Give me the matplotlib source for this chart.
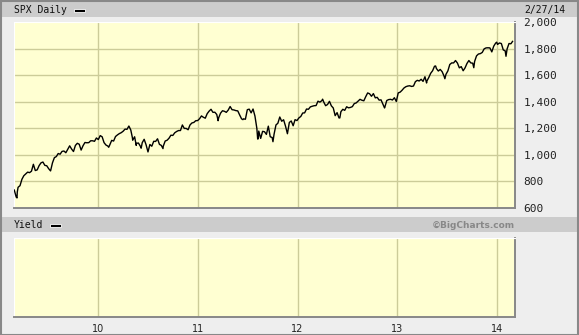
"""SPX daily (BigCharts style) with empty Yield panel below."""
import numpy as np
import pandas as pd
import matplotlib
matplotlib.use("Agg")
import matplotlib.pyplot as plt
import matplotlib.dates as mdates
from matplotlib.patches import Rectangle
from matplotlib.ticker import FuncFormatter

W, H = 579, 335

# weekly (Friday) closes
spx_2009 = [735, 683, 756, 768, 816, 843, 857, 870, 866, 877, 929, 882, 887, 919,
            940, 946, 921, 918, 896, 879, 940, 979, 987, 1010, 1005, 1026, 1029,
            1016, 1042, 1068, 1044, 1025, 1071, 1087, 1080, 1036, 1069, 1093, 1091,
            1092, 1106, 1106, 1102, 1127]
spx_2010 = [1115, 1145, 1136, 1092, 1074, 1066, 1075, 1109, 1104, 1138, 1150, 1160,
            1167, 1178, 1194, 1192, 1217, 1187, 1110, 1136, 1087, 1089, 1065, 1092,
            1117, 1076, 1022, 1078, 1065, 1102, 1101, 1121, 1079, 1071, 1065, 1104,
            1110, 1125, 1148, 1146, 1166, 1176, 1183, 1183, 1225, 1199, 1199, 1189,
            1225, 1240, 1244, 1257, 1258]
spx_2011 = [1272, 1293, 1283, 1276, 1310, 1329, 1343, 1320, 1321, 1304, 1279, 1314,
            1332, 1328, 1320, 1337, 1364, 1340, 1338, 1333, 1331, 1300, 1271, 1271,
            1268, 1340, 1344, 1316, 1345, 1292, 1199, 1179, 1124, 1177, 1174, 1154,
            1216, 1136, 1131, 1155, 1225, 1238, 1285, 1253, 1264, 1216, 1159, 1244,
            1255, 1219, 1265, 1258]
spx_2012 = [1278, 1289, 1315, 1316, 1345, 1343, 1361, 1366, 1370, 1371, 1404, 1397,
            1408, 1398, 1370, 1379, 1403, 1369, 1353, 1295, 1318, 1278, 1325, 1343,
            1335, 1362, 1354, 1357, 1363, 1386, 1391, 1405, 1418, 1411, 1407, 1438,
            1466, 1460, 1441, 1461, 1429, 1433, 1412, 1414, 1380, 1359, 1409, 1416,
            1418, 1413, 1430, 1402]
spx_2013 = [1466, 1472, 1486, 1503, 1513, 1518, 1520, 1515, 1518, 1551, 1561, 1556,
            1569, 1553, 1588, 1555, 1582, 1614, 1633, 1667, 1650, 1631, 1643, 1626,
            1593, 1606, 1632, 1680, 1692, 1692, 1710, 1691, 1655, 1664, 1633, 1655,
            1688, 1710, 1692, 1690, 1703, 1745, 1759, 1762, 1771, 1798, 1805, 1806,
            1805, 1775, 1818, 1841]
spx_2014 = [1831, 1842, 1838, 1790, 1783, 1797, 1838, 1836]

# a few daily closes between the Fridays (swing highs / lows)
extra_dates = ["2009-03-09", "2009-03-10", "2010-02-08", "2010-05-06", "2010-05-20",
               "2010-06-07", "2010-08-26", "2011-03-16", "2011-06-15", "2011-08-08",
               "2011-08-10", "2011-10-03", "2012-04-02", "2012-06-04", "2012-11-15",
               "2013-04-18", "2013-05-21", "2013-06-24", "2013-10-08", "2013-12-31",
               "2014-02-03", "2014-02-27"]
extra_spx = [676, 720, 1057, 1128, 1071, 1050, 1047, 1257, 1265, 1119, 1121, 1099,
             1419, 1278, 1353, 1541, 1669, 1573, 1656, 1848, 1742, 1854]

year_ticks = [2010, 2011, 2012, 2013, 2014]
y_ticks = [600, 800, 1000, 1200, 1400, 1600, 1800, 2000]

weekly = spx_2009 + spx_2010 + spx_2011 + spx_2012 + spx_2013 + spx_2014
fridays = pd.date_range("2009-02-27", "2014-02-21", freq="W-FRI")
assert len(fridays) == len(weekly)
s = pd.Series(weekly, index=fridays)
s = pd.concat([s, pd.Series(extra_spx, index=pd.to_datetime(extra_dates))])
s = s[~s.index.duplicated(keep="last")].sort_index()

BG = "#eeeeee"
BAR = "#cccccc"
PANEL = "#ffffd2"
GRID = "#cccc99"
MONO = "DejaVu Sans Mono"


def rect(x0, y0, x1, y1):
    return [x0 / W, 1 - y1 / H, (x1 - x0) / W, (y1 - y0) / H]


fig = plt.figure(figsize=(W / 100, H / 100), dpi=100, facecolor=BG)

# header bars + outer frame
for y0, y1 in [(2, 17), (217, 232)]:
    fig.patches.append(Rectangle((2 / W, 1 - y1 / H), (W - 4) / W, (y1 - y0) / H,
                                 transform=fig.transFigure, facecolor=BAR,
                                 edgecolor="none", zorder=0))
fig.patches.append(Rectangle((0.5 / W, 0.5 / H), (W - 1.5) / W, (H - 1.5) / H,
                             transform=fig.transFigure, facecolor="none",
                             edgecolor="#888888", lw=1.5, zorder=5))

xlim = (mdates.date2num(pd.Timestamp("2009-02-26")), mdates.date2num(pd.Timestamp("2014-03-08")))
year_x = [mdates.date2num(pd.Timestamp(f"{y}-01-01")) for y in year_ticks]


def style_panel(ax):
    ax.set_facecolor(PANEL)
    ax.set_xlim(*xlim)
    for sp in ["top", "left"]:
        ax.spines[sp].set_color("#ffffff")
        ax.spines[sp].set_linewidth(0.8)
    for sp in ["bottom", "right"]:
        ax.spines[sp].set_color("#888888")
        ax.spines[sp].set_linewidth(1.4)
    for x in year_x:
        ax.axvline(x, color=GRID, lw=1.0, zorder=1)
    ax.tick_params(length=0)


# price panel
ax = fig.add_axes(rect(14, 22, 515, 208))
style_panel(ax)
ax.set_ylim(600, 2000)
for y in y_ticks[1:-1]:
    ax.axhline(y, color=GRID, lw=1.0, zorder=1)
ax.plot(mdates.date2num(s.index), s.values, color="black", lw=1.0, zorder=3)
ax.set_xticks([])
ax.yaxis.tick_right()
ax.set_yticks(y_ticks)
ax.yaxis.set_major_formatter(FuncFormatter(lambda v, p: f"{int(v):,}"))
ax.tick_params(axis="y", pad=6, labelsize=8, labelcolor="#222222")
for lab in ax.get_yticklabels():
    lab.set_family(MONO)

# yield panel (empty)
ax2 = fig.add_axes(rect(14, 238, 515, 317))
style_panel(ax2)
ax2.set_yticks([])
ax2.set_xticks(year_x)
ax2.set_xticklabels([f"{y % 100:02d}" for y in year_ticks], fontsize=7, color="#222222")
ax2.tick_params(axis="x", pad=5)

# header texts
fig.text(14 / W, 1 - 10 / H, "SPX Daily", family=MONO, fontsize=7, va="center", color="#111111")
fig.patches.append(Rectangle((74 / W, 1 - 11.5 / H), 11 / W, 3 / H, transform=fig.transFigure,
                             facecolor="black", edgecolor="white", lw=0.6, zorder=3))
fig.text(565 / W, 1 - 10 / H, "2/27/14", family=MONO, fontsize=7, va="center", ha="right",
         color="#111111")
fig.text(14 / W, 1 - 225 / H, "Yield", family=MONO, fontsize=7, va="center", color="#111111")
fig.patches.append(Rectangle((50 / W, 1 - 226.5 / H), 11 / W, 3 / H, transform=fig.transFigure,
                             facecolor="black", edgecolor="white", lw=0.6, zorder=3))
fig.text(515 / W, 1 - 225 / H, "\u00a9BigCharts.com", fontsize=6.5, fontweight="bold",
         va="center", ha="right", color="#888888")

fig.savefig("out.png", dpi=100, facecolor=BG)
